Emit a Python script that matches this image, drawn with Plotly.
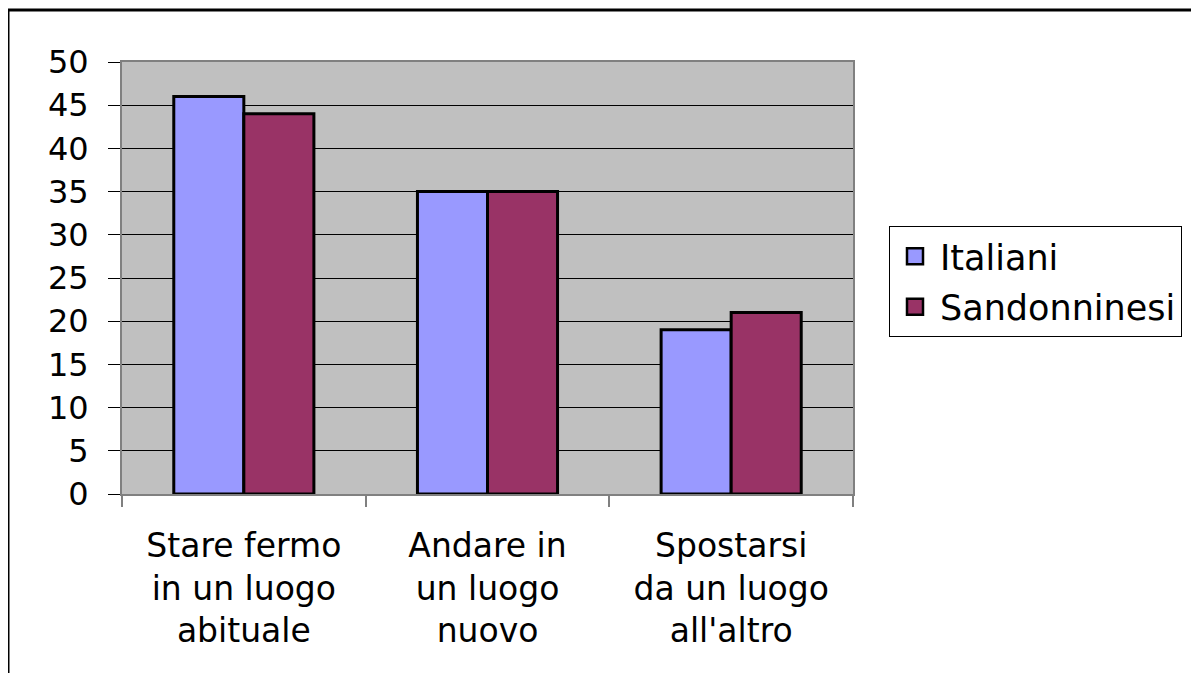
import plotly.graph_objects as go

categories = ["Stare fermo<br>in un luogo<br>abituale", "Andare in<br>un luogo<br>nuovo", "Spostarsi<br>da un luogo<br>all'altro"]
italiani = [46, 35, 19]
sandonninesi = [44, 35, 21]
y_ticks = [0, 5, 10, 15, 20, 25, 30, 35, 40, 45, 50]
series_names = ["Italiani", "Sandonninesi"]
series_colors = ["#9999FF", "#993366"]

OFF = 8  # default page body margin
W, H = 1199 - OFF, 673 - OFF
L, R, T, B = 122 - OFF, 853 - OFF, 62 - OFF, 494 - OFF

fig = go.Figure()
for name, vals, col in zip(series_names, [italiani, sandonninesi], series_colors):
    fig.add_trace(go.Bar(name=name, x=categories, y=vals,
                         marker=dict(color=col, line=dict(color="black", width=3)),
                         showlegend=False))
# legend entries with larger square swatches
for i, (name, col) in enumerate(zip(series_names, series_colors)):
    fig.add_trace(go.Scatter(name=name, x=[None], y=[None], mode="markers",
                             marker=dict(symbol="square", size=21, color=col,
                                         line=dict(color="black", width=2.5)),
                             legendgroup=str(i)))

font = dict(family="DejaVu Sans", size=32, color="black")
font_x = dict(family="DejaVu Sans", size=33, color="black")
font_l = dict(family="DejaVu Sans", size=35, color="black")


def px_x(p):
    return (p - OFF - L) / (R - L)


def px_y(p):
    return (B - (p - OFF)) / (B - T)


fig.update_layout(
    width=W, height=H,
    margin=dict(l=L, r=W - R, t=T, b=H - B, pad=0),
    paper_bgcolor="white",
    plot_bgcolor="#C0C0C0",
    barmode="group",
    bargap=0.425,
    bargroupgap=0,
    font=font,
    showlegend=True,
    legend=dict(x=px_x(889), y=px_y(226), xanchor="left", yanchor="top",
                bordercolor="black", borderwidth=1, bgcolor="white",
                font=font_l, tracegroupgap=2, itemwidth=40),
    xaxis=dict(showline=True, linecolor="#808080", linewidth=2, mirror=True,
               ticks="outside", tickson="boundaries", ticklen=11, tickcolor="#808080",
               tickwidth=2, showgrid=False, tickfont=font_x, ticklabelstandoff=21),
    yaxis=dict(range=[0, 50], tickvals=y_ticks, showline=True, linecolor="#808080",
               linewidth=2, mirror=True, ticks="outside", ticklen=12, tickcolor="black",
               tickwidth=1, showgrid=True, gridcolor="black", gridwidth=1,
               zeroline=False, tickfont=font, ticklabelstandoff=13),
    shapes=[dict(type="rect", xref="paper", yref="paper",
                 x0=px_x(8), x1=px_x(1240), y0=px_y(720), y1=px_y(10),
                 line=dict(color="black", width=3), fillcolor="rgba(0,0,0,0)",
                 layer="below")],
)

fig.write_html("out.html")
